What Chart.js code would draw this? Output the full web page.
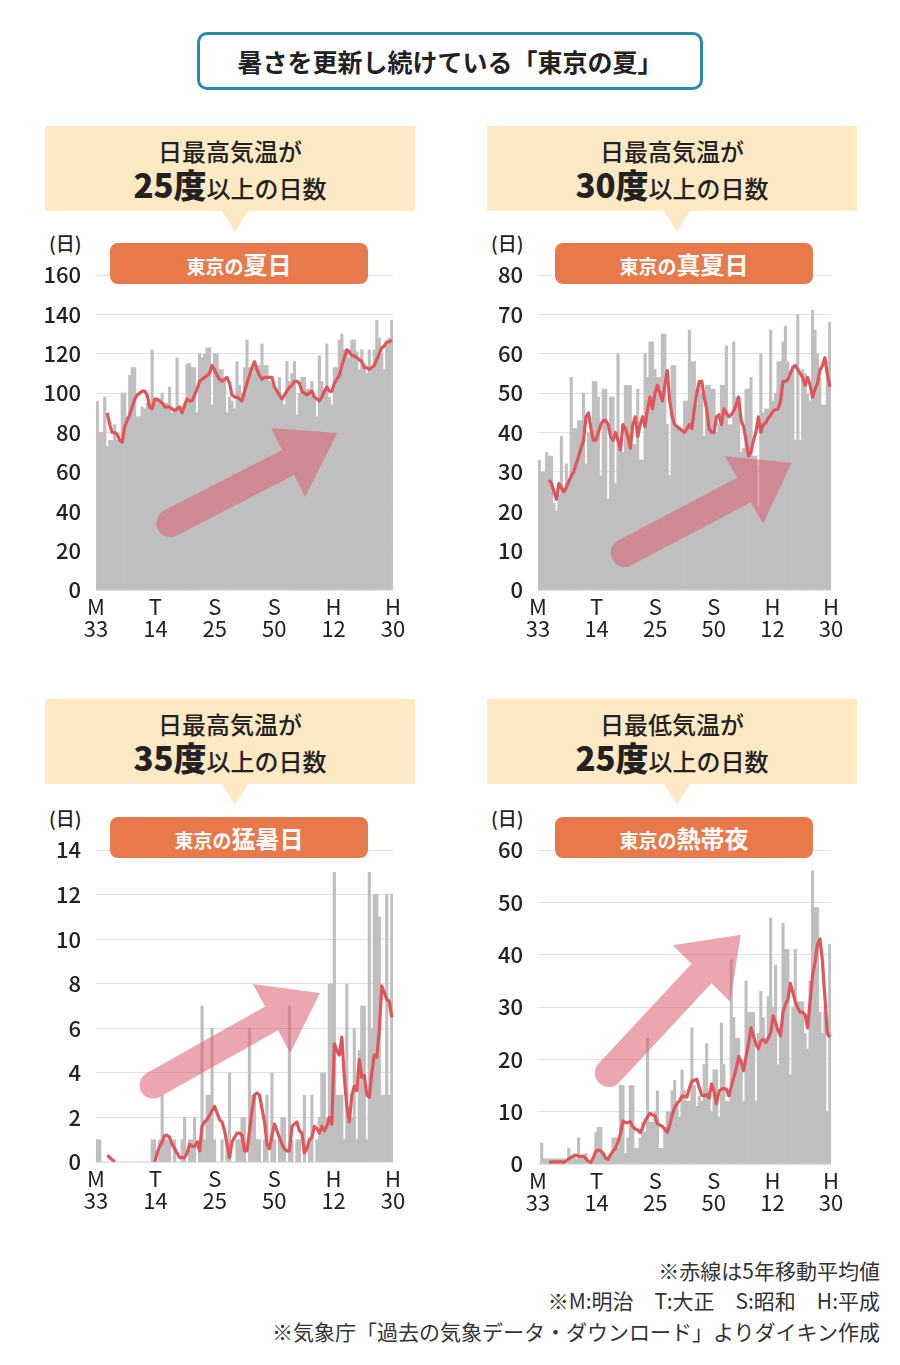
<!DOCTYPE html>
<html lang="ja">
<head>
<meta charset="utf-8">
<script src="https://cdn.jsdelivr.net/npm/chart.js@4.4.1/dist/chart.umd.min.js"></script>
<style>
body { margin:0; width:900px; height:1365px; background:#fff; position:relative; overflow:hidden;
       font-family:"Noto Sans CJK JP","Noto Sans",sans-serif; color:#222; }
#title { position:absolute; left:197px; top:32px; width:500px; height:52px; border:3px solid #2a8ba7;
         border-radius:10px; text-align:center; line-height:52px; font-size:25px; font-weight:bold; }
.hdr { position:absolute; width:370px; height:85px; background:#fde9c3; text-align:center; }
.hdr:after { content:""; position:absolute; left:177px; bottom:-21px; border-left:13px solid transparent;
             border-right:13px solid transparent; border-top:21px solid #fde9c3; }
.hdr .l1 { position:absolute; left:0; right:0; top:10px; font-size:24px; font-weight:500; line-height:30px; }
.hdr .l2 { position:absolute; left:0; right:0; top:40px; font-size:24px; font-weight:500; line-height:36px; }
.hdr .l2 b { font-size:33px; font-weight:900; }
.pill { position:absolute; width:258px; height:41px; background:#e7794b; border-radius:8px; color:#fff;
        text-align:center; font-weight:bold; line-height:41px; font-size:19px; z-index:2; }
.pill span { font-size:24px; }
.unit { position:absolute; font-size:19px; line-height:24px; font-weight:500; }
canvas { position:absolute; }
.note { position:absolute; right:20px; font-size:21px; line-height:30px; color:#333; text-align:right; }
</style>
</head>
<body>
<div id="title">暑さを更新し続けている「東京の夏」</div>

<div class="hdr" style="left:45px;top:126px"><div class="l1">日最高気温が</div><div class="l2"><b>25度</b>以上の日数</div></div>
<div class="hdr" style="left:487px;top:126px"><div class="l1">日最高気温が</div><div class="l2"><b>30度</b>以上の日数</div></div>
<div class="hdr" style="left:45px;top:699px"><div class="l1">日最高気温が</div><div class="l2"><b>35度</b>以上の日数</div></div>
<div class="hdr" style="left:487px;top:699px"><div class="l1">日最低気温が</div><div class="l2"><b>25度</b>以上の日数</div></div>

<div class="pill" style="left:110px;top:243px">東京の<span>夏日</span></div>
<div class="pill" style="left:555px;top:243px">東京の<span>真夏日</span></div>
<div class="pill" style="left:110px;top:817px">東京の<span>猛暑日</span></div>
<div class="pill" style="left:555px;top:817px">東京の<span>熱帯夜</span></div>

<div class="unit" style="left:49px;top:231px">(日)</div>
<div class="unit" style="left:491px;top:231px">(日)</div>
<div class="unit" style="left:49px;top:806px">(日)</div>
<div class="unit" style="left:491px;top:806px">(日)</div>

<canvas id="c1"></canvas>
<canvas id="c2"></canvas>
<canvas id="c3"></canvas>
<canvas id="c4"></canvas>

<div class="note" style="top:1255px">※赤線は5年移動平均値</div>
<div class="note" style="top:1285px">※M:明治　T:大正　S:昭和　H:平成</div>
<div class="note" style="top:1316px">※気象庁「過去の気象データ・ダウンロード」よりダイキン作成</div>

<script>
// years 1900 (M33) .. 2018 (H30)
var years = [
  1900,1901,1902,1903,1904,1905,1906,1907,1908,1909,
  1910,1911,1912,1913,1914,1915,1916,1917,1918,1919,
  1920,1921,1922,1923,1924,1925,1926,1927,1928,1929,
  1930,1931,1932,1933,1934,1935,1936,1937,1938,1939,
  1940,1941,1942,1943,1944,1945,1946,1947,1948,1949,
  1950,1951,1952,1953,1954,1955,1956,1957,1958,1959,
  1960,1961,1962,1963,1964,1965,1966,1967,1968,1969,
  1970,1971,1972,1973,1974,1975,1976,1977,1978,1979,
  1980,1981,1982,1983,1984,1985,1986,1987,1988,1989,
  1990,1991,1992,1993,1994,1995,1996,1997,1998,1999,
  2000,2001,2002,2003,2004,2005,2006,2007,2008,2009,
  2010,2011,2012,2013,2014,2015,2016,2017,2018
];
var eraLabels = [['M','33'],['T','14'],['S','25'],['S','50'],['H','12'],['H','30']];

// 夏日 (max >= 25)
var natsubi = [
  96,80,80,98,73,76,76,84,76,76,
  100,100,88,109,113,113,88,88,93,92,
  95,93,122,97,96,97,100,95,95,103,
  90,90,118,93,92,93,115,115,113,113,
  90,120,118,120,123,123,94,120,120,112,
  112,108,90,98,96,92,116,104,100,113,
  127,113,110,113,112,114,125,114,114,106,
  105,101,100,108,96,94,116,106,110,116,
  89,100,108,108,102,102,106,98,88,119,
  106,100,125,98,94,113,113,127,130,122,
  122,118,127,127,121,112,122,115,110,122,
  112,122,137,128,120,112,125,128,137
];
var natsubiAvg = [
  null,null,null,null,90,84,80,80,79,76,
  75,83,86,89,93,97,99,100,101,101,
  99,93,92,97,97,96,95,93,93,93,
  92,91,92,93,90,94,97,96,96,99,
  102,106,107,108,109,110,114,112,109,107,
  106,107,108,105,99,98,98,97,96,101,
  105,109,113,116,112,109,107,108,108,108,
  108,103,101,99,97,99,101,103,104,106,
  106,105,101,100,99,100,101,98,97,96,
  98,101,103,101,101,105,107,109,114,118,
  122,121,119,119,118,117,116,113,113,112,
  113,114,117,120,123,124,126,126,127
];

// 真夏日 (max >= 30)
var manatsubi = [
  33,30,30,35,34,34,22,20,24,39,
  26,32,28,54,41,41,43,43,50,32,
  40,40,53,53,49,29,51,51,23,49,
  49,27,60,35,35,52,52,52,37,37,
  51,33,33,60,54,63,63,56,54,54,
  65,65,42,29,57,57,41,41,41,48,
  48,66,58,58,47,52,50,39,52,52,
  51,51,40,42,52,52,62,42,42,63,
  49,48,35,36,51,51,54,34,34,21,
  60,45,46,46,66,48,50,58,58,63,
  67,58,55,57,38,70,38,56,55,50,
  48,71,66,60,54,47,47,58,68
];
var manatsubiAvg = [
  null,null,null,null,28,27,25,23,27,26,
  25,26,27.5,29,30,32,34,36,38,44,
  45,41,38,38,40,42,43,43,42,39,
  38,40,38,35.5,42,41,39,36,42,44,
  39,42,44,41.5,46,49,46,50,52,50,
  48,52,55.7,48,44,42,41.5,41,40.5,40,
  41,42,41,46,50,53,53,49,46,41,
  40,40,44,44.5,42,46,45,44,44.5,45.5,
  47,49,43,41.5,38,34,35,38,40,44,
  40,42,42.5,43.6,44.4,45.5,45.8,46,48,53,
  53,53.4,55,56.5,57,56,55,54,52,54,
  52,49,51,52.5,55.8,57,59,55,51.6
];

// 猛暑日 (max >= 35)
var moshobi = [
  1,1,0,0,0,0,0,0,0,0,
  0,0,0,0,0,0,0,0,0,0,
  0,0,1,1,0,1,3,1,1,1,
  0,1,0,0,1,2,0,1,1,2,
  0,1,7,1,3,3,6,1,0,0,
  1,0,1,4,0,0,1,1,2,2,
  0,6,3,3,1,1,0,1,3,0,
  4,1,0,1,2,2,0,7,1,0,
  1,1,0,3,0,1,3,0,1,2,
  4,4,2,8,8,13,3,3,3,1,
  8,2,2,6,1,5,7,7,1,13,
  6,12,12,11,3,3,12,3,12
];
var moshobiAvg = [
  null,null,null,null,0.3,0.2,0.1,0,null,null,
  null,null,null,null,null,null,null,null,null,null,
  null,null,null,0,0.4,0.7,0.9,1.2,1.2,1.1,
  0.8,0.6,0.4,0.2,0.2,0.2,0.4,0.8,0.7,0.7,
  0.9,0.5,1.6,1.8,1.9,2.1,2.3,2.5,2.2,1.9,
  1.8,1.4,0.8,0.2,0.9,1.1,1.3,1.3,1.2,0.5,
  0.5,1.4,2.3,3.0,3.1,3.0,2.4,1.8,0.8,0.6,
  1.2,1.7,1.4,1.1,0.8,0.6,0.5,0.5,1.6,1.7,
  1.8,1.4,1.3,0.4,0.6,1.0,1.1,1.6,1.5,1.3,
  1.6,1.4,1.6,2.0,1.7,5.3,5.0,4.8,5.6,3.8,
  2.5,1.8,3.0,3.4,3.2,4.6,3.8,3.9,3.0,2.9,
  4.0,4.8,4.7,5.9,7.9,7.6,7.3,7.2,6.5
];

// 熱帯夜 (min >= 25)
var nettaiya = [
  0,4,1,1,1,1,1,1,1,1,
  1,0,3,1,2,1,5,1,1,2,
  0,0,1,6,7,7,2,1,1,2,
  5,5,3,15,15,2,5,15,15,3,
  3,5,8,6,24,8,8,10,14,3,
  3,7,10,10,14,16,12,9,18,14,
  12,12,26,15,11,13,12,19,23,14,
  10,18,18,9,27,19,12,12,39,28,
  24,24,20,12,35,29,29,29,12,25,
  33,28,24,32,47,30,38,19,26,46,
  41,41,17,30,41,31,31,31,25,22,
  35,56,49,49,29,25,29,10,42
];
var nettaiyaAvg = [
  null,null,null,null,0.3,0.4,0.4,0.4,0.4,0.4,
  0.3,0.6,1.0,1.3,1.5,1.7,1.5,1.4,1.5,1.0,
  0.5,0.3,1.3,2.4,2.7,2.5,2.0,1.1,0.9,1.8,
  2.5,3.0,4.2,5.8,8.2,7.9,7.9,8.1,7.1,6.7,
  6.5,6.0,7.0,8.2,9.0,9.7,9.4,9.2,7.7,7.4,
  7.2,6.6,6.0,7.5,9.4,10.8,11.6,12.1,13.0,12.9,
  12.8,14.5,15.8,16.0,16.2,14.6,13.2,13.0,13.3,12.6,
  15.3,13.9,11.5,13.9,14.3,14.4,14.3,13.0,14.8,16.5,
  18.2,20.5,19.5,17.8,20.5,23.0,26.0,24.5,22.9,22.0,
  23.5,23.8,23.2,24.0,25.1,28.3,27.0,25.5,24.5,29.0,
  30.5,31.5,34.5,32.8,31.0,29.8,29.0,29.0,28.5,26.0,
  31.0,36.0,38.5,42.0,43.0,38.9,32.0,25.0,24.2
];

Chart.defaults.font.family = '"Noto Sans CJK JP","Noto Sans",sans-serif';
Chart.defaults.color = '#222';

// big pink arrow, anchored in axis units (era axis x, value y)
var arrowPlugin = {
  id: 'arrow',
  afterDatasetDraw: function(chart, args, opts) {
    if (args.index !== 0 || !opts.tip) return;
    var xs = chart.scales.x2, ys = chart.scales.y, ctx = chart.ctx;
    var P = function(p) { return [xs.getPixelForValue(p[0]), ys.getPixelForValue(p[1])]; };
    var tail = P(opts.tail), w1 = P(opts.wing1), tip = P(opts.tip), w2 = P(opts.wing2);
    var r = opts.width / 2;
    var base = [(w1[0] + w2[0]) / 2, (w1[1] + w2[1]) / 2];
    var dx = base[0] - tail[0], dy = base[1] - tail[1];
    var len = Math.hypot(dx, dy); dx /= len; dy /= len;
    var nx = -dy, ny = dx;
    if ((w1[0] - base[0]) * nx + (w1[1] - base[1]) * ny < 0) { nx = -nx; ny = -ny; }
    var edge = function(w) {
      var ux = w[0] - base[0], uy = w[1] - base[1], ul = Math.hypot(ux, uy);
      ux /= ul; uy /= ul;
      var k = r / Math.abs(ux * dy - uy * dx);
      return [base[0] + ux * k, base[1] + uy * k];
    };
    var s1 = edge(w1), s2 = edge(w2);
    ctx.save();
    ctx.fillStyle = 'rgba(221,92,112,0.55)';
    ctx.beginPath();
    ctx.moveTo(tail[0] + nx * r, tail[1] + ny * r);
    ctx.lineTo(s1[0], s1[1]);
    ctx.lineTo(w1[0], w1[1]);
    ctx.lineTo(tip[0], tip[1]);
    ctx.lineTo(w2[0], w2[1]);
    ctx.lineTo(s2[0], s2[1]);
    for (var i = 0; i <= 24; i++) {
      var t = Math.PI * i / 24;
      ctx.lineTo(tail[0] - nx * r * Math.cos(t) - dx * r * Math.sin(t),
                 tail[1] - ny * r * Math.cos(t) - dy * r * Math.sin(t));
    }
    ctx.closePath();
    ctx.fill();
    ctx.restore();
  }
};

function makeChart(id, area, yMax, yStep, bars, avg, arrow) {
  var cv = document.getElementById(id);
  var padTop = 30, padRight = 28, axisW = 80, axisH = 56;
  var left = area.left - axisW, top = area.top - padTop;
  var w = area.right + padRight - left, h = area.bottom + axisH - top;
  cv.style.left = left + 'px'; cv.style.top = top + 'px';
  cv.style.width = w + 'px'; cv.style.height = h + 'px';
  cv.width = w; cv.height = h;

  return new Chart(cv, {
    type: 'bar',
    data: {
      labels: years,
      datasets: [
        { type: 'bar', data: bars, backgroundColor: '#bfbfbf', borderWidth: 0,
          categoryPercentage: 1.0, barPercentage: 1.0, order: 2 },
        { type: 'line', data: avg, borderColor: '#e0555a', borderWidth: 3.2,
          pointRadius: 0, tension: 0, borderJoinStyle: 'round', order: 1 }
      ]
    },
    options: {
      responsive: false,
      animation: false,
      events: [],
      layout: { padding: { top: padTop, right: padRight, left: 0, bottom: 0 } },
      plugins: { legend: { display: false }, tooltip: { enabled: false }, arrow: arrow },
      scales: {
        x: { display: false, offset: true },
        x2: {
          type: 'linear', position: 'bottom', min: 0, max: 5, offset: false,
          grid: { display: false, drawTicks: false, offset: false }, border: { display: false },
          ticks: { stepSize: 1, autoSkip: false, maxRotation: 0, padding: 6,
                   font: { size: 22, lineHeight: 1.0 }, color: '#222',
                   callback: function(v) { return eraLabels[v] || ''; } },
          afterFit: function(s) { s.height = axisH; }
        },
        y: {
          min: 0, max: yMax,
          grid: { color: '#e0e0e0', lineWidth: 1, drawTicks: false },
          border: { display: false },
          ticks: { stepSize: yStep, padding: 15, font: { size: 22, weight: '500' }, color: '#222' },
          afterFit: function(s) { s.width = axisW; }
        }
      }
    },
    plugins: [arrowPlugin]
  });
}

makeChart('c1', { left: 96, top: 275, right: 393, bottom: 590 }, 160, 20, natsubi, natsubiAvg,
  { tail: [1.25, 34], wing1: [2.95, 82.3], tip: [4.06, 79.7], wing2: [3.52, 47.2], width: 28 });
makeChart('c2', { left: 538, top: 275, right: 831, bottom: 590 }, 80, 10, manatsubi, manatsubiAvg,
  { tail: [1.48, 9.4], wing1: [3.19, 34.0], tip: [4.33, 32.3], wing2: [3.84, 16.8], width: 28 });
makeChart('c3', { left: 96, top: 850, right: 393, bottom: 1162 }, 14, 2, moshobi, moshobiAvg,
  { tail: [0.96, 3.45], wing1: [2.64, 7.99], tip: [3.77, 7.58], wing2: [3.27, 4.89], width: 27 });
makeChart('c4', { left: 538, top: 850, right: 831, bottom: 1164 }, 60, 10, nettaiya, nettaiyaAvg,
  { tail: [1.21, 17.4], wing1: [2.30, 41.8], tip: [3.46, 43.8], wing2: [3.28, 31.0], width: 28 });
</script>
</body>
</html>
